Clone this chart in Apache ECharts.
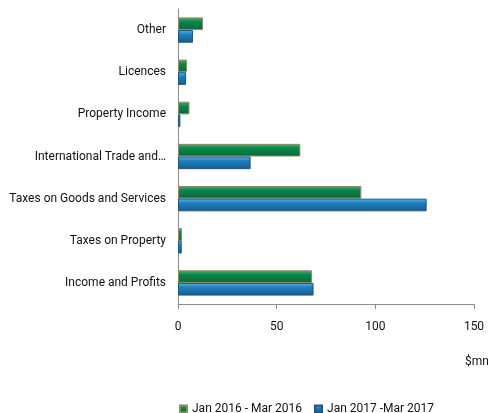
<!DOCTYPE html>
<html>
<head>
<meta charset="utf-8">
<script src="https://cdn.jsdelivr.net/npm/echarts@6/dist/echarts.min.js"></script>
<style>
  html, body { margin: 0; padding: 0; background: #fff; }
  #chart { width: 488px; height: 413px; }
</style>
</head>
<body>
<div id="chart"></div>
<script>
// Revenue categories, listed bottom to top along the category axis
const categories = [
  'Income and Profits',
  'Taxes on Property',
  'Taxes on Goods and Services',
  'International Trade and…',
  'Property Income',
  'Licences',
  'Other'
];
const seriesNames = ['Jan 2016 - Mar 2016', 'Jan 2017 -Mar 2017'];
const values2016 = [67.9, 2.0, 92.9, 62.0, 5.8, 4.6, 12.7];
const values2017 = [68.7, 1.9, 126.0, 36.8, 1.2, 4.1, 7.6];
const xTicks = [0, 50, 100, 150];

const FONT = 'Roboto, "Open Sans", sans-serif';

function bevel(light, mid, dark) {
  return new echarts.graphic.LinearGradient(0, 0, 0, 1, [
    { offset: 0, color: light },
    { offset: 0.35, color: mid },
    { offset: 1, color: dark }
  ]);
}

const chart = echarts.init(document.getElementById('chart'), null, { renderer: 'canvas' });
chart.setOption({
  animation: false,
  backgroundColor: '#ffffff',
  textStyle: { fontFamily: FONT },
  grid: { left: 178, right: 14, top: 9, bottom: 109, containLabel: false },
  xAxis: {
    type: 'value',
    min: xTicks[0],
    max: xTicks[xTicks.length - 1],
    interval: xTicks[1] - xTicks[0],
    axisLine: { show: true, lineStyle: { color: '#8c8c8c', width: 1 } },
    axisTick: { show: true, length: 5, lineStyle: { color: '#8c8c8c' } },
    splitLine: { show: false },
    axisLabel: { color: '#111', fontSize: 12, fontFamily: FONT, margin: 17 }
  },
  yAxis: {
    type: 'category',
    data: categories,
    axisLine: { show: true, lineStyle: { color: '#8c8c8c', width: 1 } },
    axisTick: { show: false },
    axisLabel: { color: '#111', fontSize: 12, fontFamily: FONT, margin: 12 }
  },
  legend: {
    data: seriesNames,
    left: 174,
    top: 398,
    icon: 'rect',
    itemWidth: 7,
    itemHeight: 7,
    itemGap: 12,
    textStyle: { color: '#111', fontSize: 12, fontFamily: FONT }
  },
  graphic: [{
    type: 'text',
    left: 465,
    top: 356,
    style: { text: '$mn', fill: '#111', font: '12px ' + FONT }
  }],
  series: [
    {
      name: seriesNames[0],
      type: 'bar',
      data: values2016,
      barGap: '0%',
      barCategoryGap: '40%',
      itemStyle: {
        color: bevel('#45b574', '#0b8548', '#086a39'),
        borderColor: '#8f8c62',
        borderWidth: 1
      }
    },
    {
      name: seriesNames[1],
      type: 'bar',
      data: values2017,
      barGap: '0%',
      barCategoryGap: '40%',
      itemStyle: {
        color: bevel('#55b5e6', '#1f7fc0', '#195b8c'),
        borderColor: '#1d557f',
        borderWidth: 1
      }
    }
  ]
});
</script>
</body>
</html>
